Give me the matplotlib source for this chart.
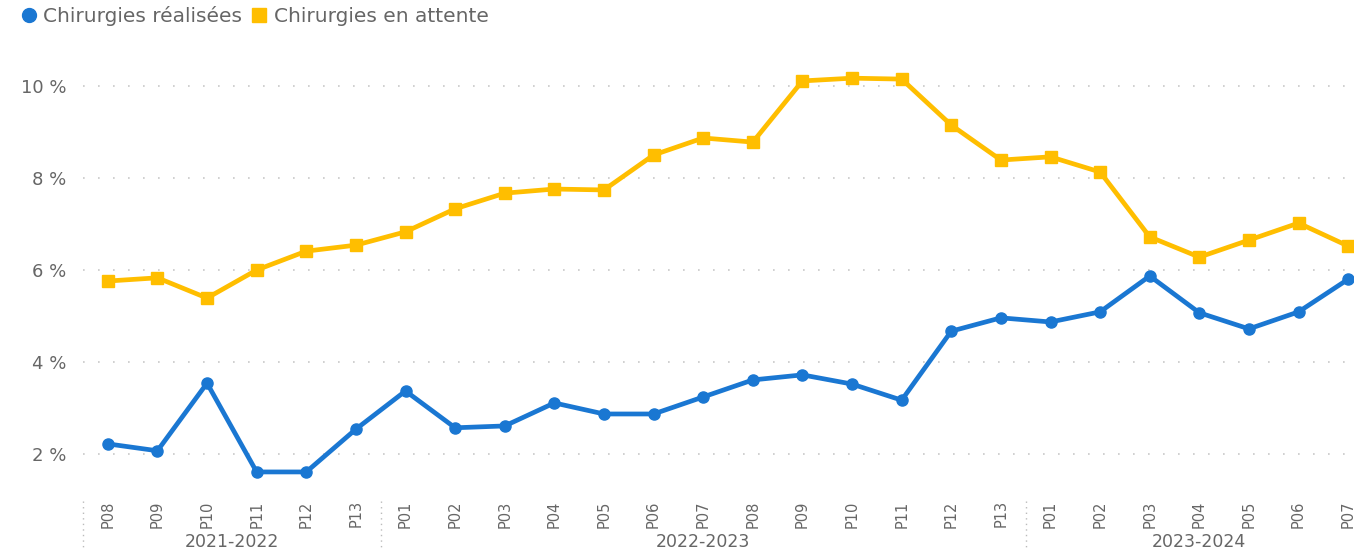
import matplotlib.pyplot as plt
from matplotlib.ticker import FuncFormatter

periods = ['P08', 'P09', 'P10', 'P11', 'P12', 'P13',
           'P01', 'P02', 'P03', 'P04', 'P05', 'P06', 'P07', 'P08', 'P09', 'P10', 'P11', 'P12', 'P13',
           'P01', 'P02', 'P03', 'P04', 'P05', 'P06', 'P07']
years = ['2021-2022', '2022-2023', '2023-2024']
year_counts = [6, 13, 7]

realisees = [2.22, 2.07, 3.54, 1.61, 1.61, 2.54,
             3.37, 2.57, 2.61, 3.11, 2.87, 2.87, 3.24, 3.61, 3.72, 3.52, 3.17, 4.67, 4.96,
             4.87, 5.09, 5.87, 5.07, 4.72, 5.09, 5.80]
attente = [5.76, 5.83, 5.39, 6.00, 6.41, 6.54,
           6.83, 7.33, 7.67, 7.76, 7.74, 8.50, 8.87, 8.78, 10.11, 10.17, 10.15, 9.15, 8.39,
           8.46, 8.13, 6.72, 6.28, 6.65, 7.02, 6.52]

BLUE = '#1A77D2'
YELLOW = '#FFBE00'
GREY = '#666666'

W, H = 1354, 549
fig = plt.figure(figsize=(W / 100, H / 100), dpi=100)
# axes in pixels: left 83, right 1373 (runs past the figure edge), top 60, bottom 492
ax = fig.add_axes([83 / W, 1 - 492 / H, (1373 - 83) / W, (492 - 60) / H])

x = list(range(len(periods)))
ax.plot(x, realisees, color=BLUE, lw=3.4, marker='o', ms=8, label='Chirurgies réalisées', zorder=3)
ax.plot(x, attente, color=YELLOW, lw=3.4, marker='s', ms=8, label='Chirurgies en attente', zorder=3)

ax.set_xlim(-0.5, len(periods) - 0.5)
ax.set_ylim(1.174, 10.565)
ax.set_yticks([2, 4, 6, 8, 10])
ax.yaxis.set_major_formatter(FuncFormatter(lambda v, p: f'{v:.0f} %'))
ax.grid(axis='y', color='#c8c8c8', linestyle=(0, (1, 8)), lw=1.2)
ax.tick_params(axis='y', length=0, pad=12, labelsize=13, labelcolor=GREY)
ax.set_xticks(x)
ax.set_xticklabels(periods, rotation=90, fontsize=10.5, color=GREY)
ax.tick_params(axis='x', length=0, pad=6)
for s in ax.spines.values():
    s.set_visible(False)

# year groups and dotted separators under the axis
start = 0
for yr, n in zip(years, year_counts):
    ax.plot([start - 0.5, start - 0.5], [-0.02, -0.14], transform=ax.get_xaxis_transform(),
            color='#bbbbbb', ls=(0, (1, 3)), lw=1, clip_on=False)
    ax.text(start + (n - 1) / 2, -0.115, yr, transform=ax.get_xaxis_transform(),
            ha='center', va='center', fontsize=12.5, color=GREY)
    start += n

fig.legend(loc='upper left', bbox_to_anchor=(0.003, 1.022), ncol=2, frameon=False,
           fontsize=14.5, labelcolor=GREY, handlelength=0.7, handletextpad=0.35,
           columnspacing=0.5, markerscale=1.25)
leg = fig.legends[0]
for h in leg.legend_handles:
    h.set_linestyle('None')

fig.savefig('out.png', dpi=100)
